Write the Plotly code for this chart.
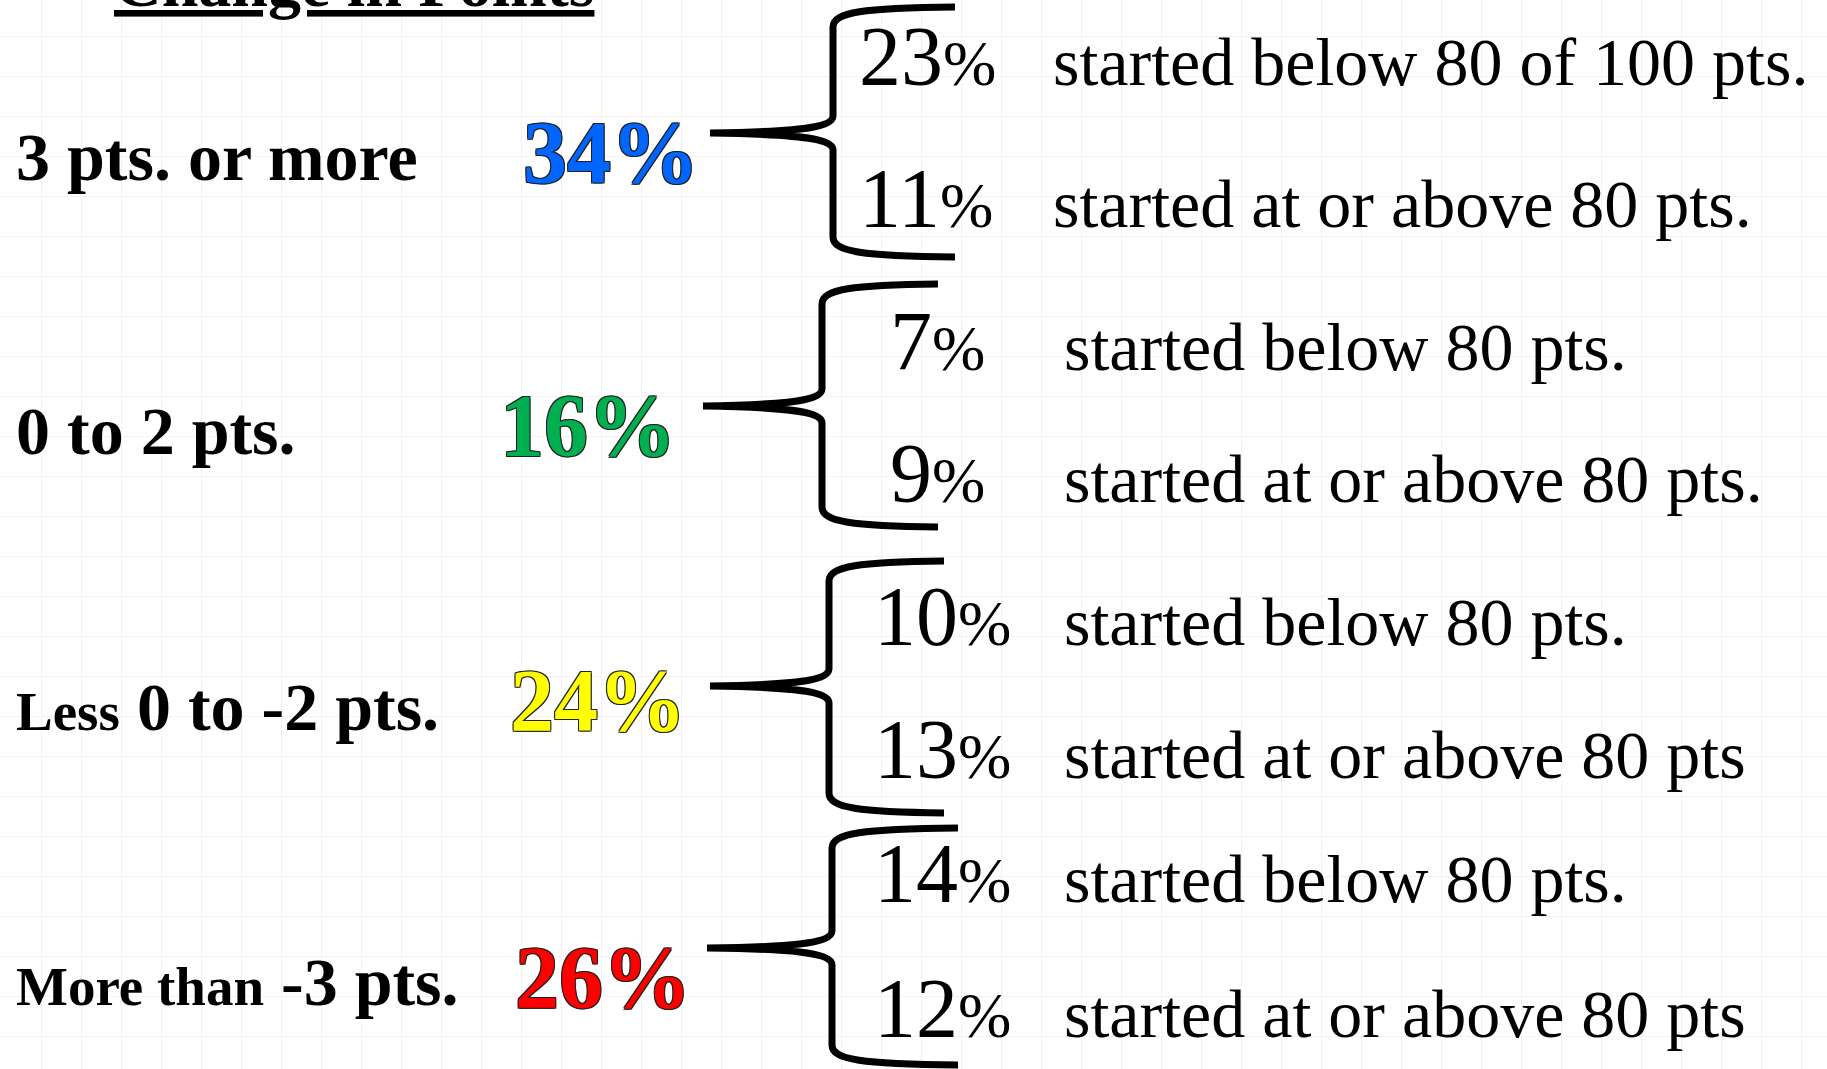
import plotly.graph_objects as go

# ---------------- data ----------------
title_text = "Change in Points"
change_small = ["", "", "Less", "More than"]
change_main = ["3 pts. or more", "0 to 2 pts.", "0 to -2 pts.", "-3 pts."]
change_pct = [34, 16, 24, 26]
below_pct = [23, 7, 10, 14]
above_pct = [11, 9, 13, 12]
below_text = ["started below 80 of 100 pts.", "started below 80 pts.",
              "started below 80 pts.", "started below 80 pts."]
above_text = ["started at or above 80 pts.", "started at or above 80 pts.",
              "started at or above 80 pts", "started at or above 80 pts"]

# ---------------- styles ----------------
pct_colors = ["#0066FF", "#00B050", "#FFFF00", "#FF0000"]
FONT = "Liberation Serif"
outline = "1px 1px 0 #222, -1px -1px 0 #222, 1px -1px 0 #222, -1px 1px 0 #222"

# ---------------- layout positions (page pixels) ----------------
W, H, M = 1827, 1069, 0
label_x = 15
label_base = [180, 454, 730, 1005]
big_x = [522, 499, 509, 514]
big_base = [182, 455, 730, 1007]
sub_num_x = [858, 889, 873, 873]
sub_text_x = [1052, 1063, 1063, 1063]
sub_base_top = [85, 370, 645, 902]
sub_base_bot = [227, 502, 778, 1037]
# brace geometry: tip x, tip y, stem x, top y, bottom y, end x
braces = [
    (710, 133, 833, 7, 257, 955),
    (703, 406, 822, 284, 527, 938),
    (710, 686, 829, 561, 813, 944),
    (707, 948, 832, 828, 1065, 958),
]

S_LABEL, S_LABEL_SMALL = 68, 55
S_BIG = 88
S_NUM, S_NUM_PCT = 84, 64
S_TEXT = 68


def mid(base, size):
    return base - 0.34 * size


def paper_y(py):
    return 1 - (py - M) / (H - 2 * M)


fig = go.Figure()
fig.add_trace(go.Scatter(x=[], y=[], mode="markers", showlegend=False))

ann = []
# title (partly cut off at the top of the page)
ann.append(dict(text=title_text, xref="x", yref="paper", x=354,
                y=paper_y(mid(6, 66)), xanchor="center", yanchor="middle",
                showarrow=False, borderpad=0,
                font=dict(family=FONT, size=66, color="black", weight=700,
                          lineposition="under")))

for i in range(4):
    if change_small[i]:
        t = f"<span style='font-size:{S_LABEL_SMALL}px'>{change_small[i]}</span> {change_main[i]}"
    else:
        t = change_main[i]
    ann.append(dict(text=t, xref="x", yref="y", x=label_x, y=mid(label_base[i], S_LABEL),
                    xanchor="left", yanchor="middle", showarrow=False, borderpad=0,
                    font=dict(family=FONT, size=S_LABEL, color="black", weight=700)))
    ann.append(dict(text=f"{change_pct[i]}%", xref="x", yref="y", x=big_x[i],
                    y=mid(big_base[i], S_BIG), xanchor="left", yanchor="middle",
                    showarrow=False, borderpad=0,
                    font=dict(family=FONT, size=S_BIG, color=pct_colors[i], weight=700,
                              shadow=outline)))
    for val, txt, base in ((below_pct[i], below_text[i], sub_base_top[i]),
                           (above_pct[i], above_text[i], sub_base_bot[i])):
        ann.append(dict(text=f"{val}<span style='font-size:{S_NUM_PCT}px'>%</span>",
                        xref="x", yref="y", x=sub_num_x[i], y=mid(base, S_NUM),
                        xanchor="left", yanchor="middle", showarrow=False, borderpad=0,
                        font=dict(family=FONT, size=S_NUM, color="black")))
        ann.append(dict(text=txt, xref="x", yref="y", x=sub_text_x[i], y=mid(base, S_TEXT),
                        xanchor="left", yanchor="middle", showarrow=False, borderpad=0,
                        font=dict(family=FONT, size=S_TEXT, color="black")))

shapes = []
for (tx, ty, vx, yt, yb, ex) in braces:
    r = 20
    p = (f"M {ex},{yt} C {vx+30},{yt+1} {vx},{yt+5} {vx},{yt+r} "
         f"L {vx},{ty-17} C {vx},{ty-4} {vx-45},{ty-1} {tx},{ty} "
         f"C {vx-45},{ty+1} {vx},{ty+4} {vx},{ty+17} "
         f"L {vx},{yb-r} C {vx},{yb-5} {vx+30},{yb-1} {ex},{yb}")
    shapes.append(dict(type="path", path=p, xref="x", yref="y",
                       line=dict(color="black", width=7), layer="above"))

fig.update_layout(
    width=W - 2 * M, height=H - 2 * M,
    margin=dict(l=0, r=0, t=0, b=0, pad=0),
    paper_bgcolor="white", plot_bgcolor="white",
    showlegend=False,
    annotations=ann, shapes=shapes,
    xaxis=dict(range=[M, W - M], showgrid=True, gridcolor="#f3f3f3", gridwidth=1.2,
               tick0=1, dtick=40, showticklabels=False, zeroline=False, showline=False,
               ticks="", fixedrange=True),
    yaxis=dict(range=[H - M, M], showgrid=True, gridcolor="#f3f3f3", gridwidth=1.2,
               tick0=36.7, dtick=40, showticklabels=False, zeroline=False, showline=False,
               ticks="", fixedrange=True),
)

fig.write_html("out.html", config={"displayModeBar": False},
               post_script="document.body.style.margin='0px';document.body.style.overflow='hidden';")
